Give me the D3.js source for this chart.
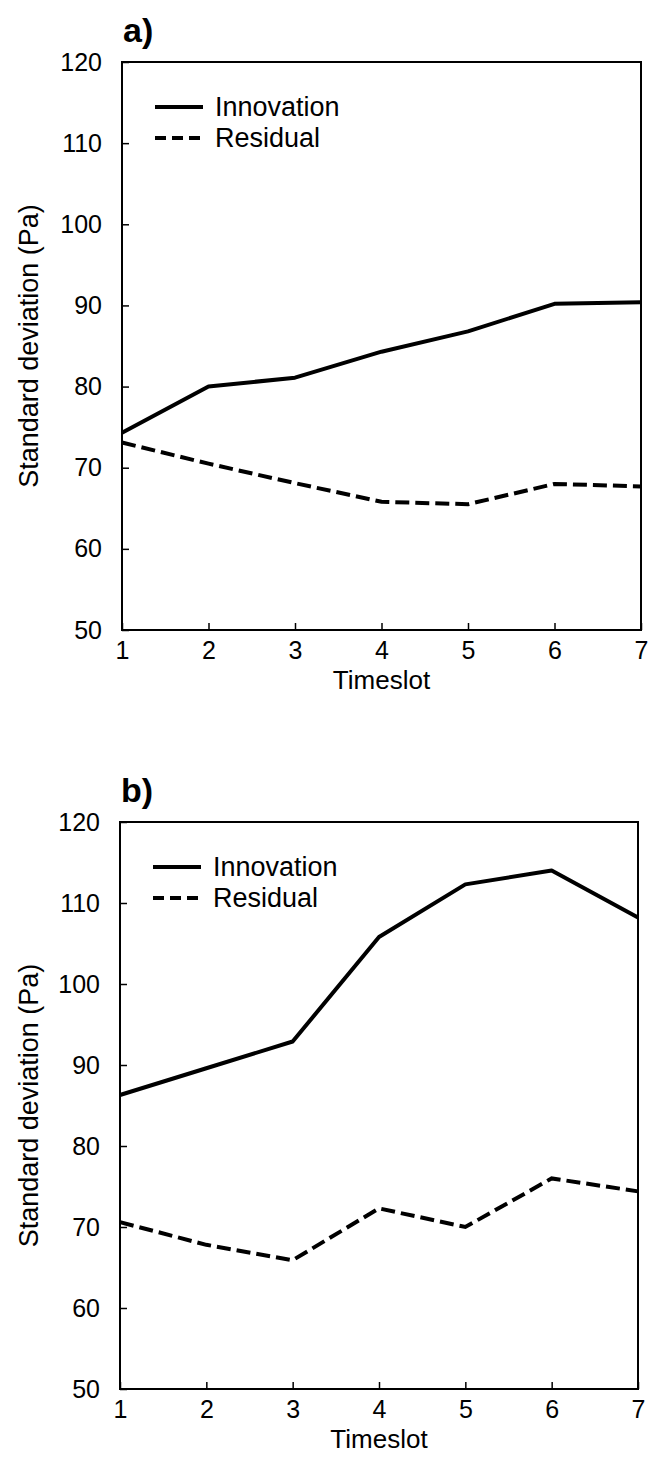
<!DOCTYPE html>
<html>
<head>
<meta charset="utf-8">
<script src="https://cdn.jsdelivr.net/npm/d3@7"></script>
<style>
  body { margin: 0; background: #fff; }
  svg { display: block; font-family: "Liberation Sans", Arial, sans-serif; }
</style>
</head>
<body>
<svg id="chart" width="648" height="1460"></svg>
<script>
const timeslots = [1, 2, 3, 4, 5, 6, 7];
const yTicks = [50, 60, 70, 80, 90, 100, 110, 120];

const innovationA = [74.3, 80.0, 81.1, 84.3, 86.8, 90.2, 90.4];
const residualA = [73.1, 70.5, 68.1, 65.8, 65.5, 68.0, 67.7];

const innovationB = [86.3, 89.6, 92.9, 105.8, 112.3, 114.0, 108.2];
const residualB = [70.6, 67.8, 65.9, 72.3, 70.0, 76.0, 74.4];

const seriesNames = ["Innovation", "Residual"];

const LINE_WIDTH = 4;
const DASH = "14,6";

const svg = d3.select("svg#chart");

function drawPanel(cfg) {
  const x = d3.scaleLinear().domain([1, 7]).range([cfg.left, cfg.right]);
  const y = d3.scaleLinear().domain([50, 120]).range([cfg.bottom, cfg.top]);
  const g = svg.append("g");

  // y axis (ticks point inward)
  g.append("g")
    .attr("transform", `translate(${cfg.left},0)`)
    .call(d3.axisLeft(y).tickValues(yTicks).tickSize(-7).tickPadding(20))
    .call(a => a.select(".domain").remove())
    .call(a => a.selectAll("line").attr("stroke", "#000").attr("stroke-width", 1.5))
    .call(a => a.selectAll("text").attr("font-size", "25px").attr("fill", "#000"));

  // x axis
  g.append("g")
    .attr("transform", `translate(0,${cfg.bottom})`)
    .call(d3.axisBottom(x).tickValues(timeslots).tickFormat(d3.format("d")).tickSize(-7).tickPadding(11))
    .call(a => a.select(".domain").remove())
    .call(a => a.selectAll("line").attr("stroke", "#000").attr("stroke-width", 1.5))
    .call(a => a.selectAll("text").attr("font-size", "25px").attr("fill", "#000"));

  // frame
  g.append("rect")
    .attr("x", cfg.left)
    .attr("y", cfg.top)
    .attr("width", cfg.right - cfg.left)
    .attr("height", cfg.bottom - cfg.top)
    .attr("fill", "none")
    .attr("stroke", "#000")
    .attr("stroke-width", 2);

  const line = d3.line()
    .x((d, i) => x(timeslots[i]))
    .y(d => y(d));

  g.append("path")
    .attr("d", line(cfg.innovation))
    .attr("fill", "none")
    .attr("stroke", "#000")
    .attr("stroke-width", LINE_WIDTH)
    .attr("stroke-linejoin", "round");

  g.append("path")
    .attr("d", line(cfg.residual))
    .attr("fill", "none")
    .attr("stroke", "#000")
    .attr("stroke-width", LINE_WIDTH)
    .attr("stroke-dasharray", DASH);

  // legend
  const legend = g.selectAll(".legend")
    .data(seriesNames)
    .enter()
    .append("g")
    .attr("transform", (d, i) => `translate(${cfg.left},${cfg.top + 45 + i * 31})`);

  legend.append("line")
    .attr("x1", 33)
    .attr("x2", 81)
    .attr("y1", 0)
    .attr("y2", 0)
    .attr("stroke", "#000")
    .attr("stroke-width", LINE_WIDTH)
    .attr("stroke-dasharray", (d, i) => i === 1 ? "11,6" : null);

  legend.append("text")
    .attr("x", 93)
    .attr("y", 9)
    .attr("font-size", "27px")
    .text(d => d);

  // titles
  g.append("text")
    .attr("x", cfg.left + 1)
    .attr("y", cfg.top - 20)
    .attr("font-size", "34px")
    .attr("font-weight", "bold")
    .text(cfg.label);

  g.append("text")
    .attr("x", (cfg.left + cfg.right) / 2)
    .attr("y", cfg.bottom + 59)
    .attr("text-anchor", "middle")
    .attr("font-size", "26px")
    .text("Timeslot");

  g.append("text")
    .attr("transform", `translate(38,${(cfg.top + cfg.bottom) / 2}) rotate(-90)`)
    .attr("text-anchor", "middle")
    .attr("font-size", "27px")
    .text("Standard deviation (Pa)");
}

drawPanel({ label: "a)", left: 122, right: 641, top: 62, bottom: 630, innovation: innovationA, residual: residualA });
drawPanel({ label: "b)", left: 120, right: 638, top: 822, bottom: 1389, innovation: innovationB, residual: residualB });
</script>
</body>
</html>
